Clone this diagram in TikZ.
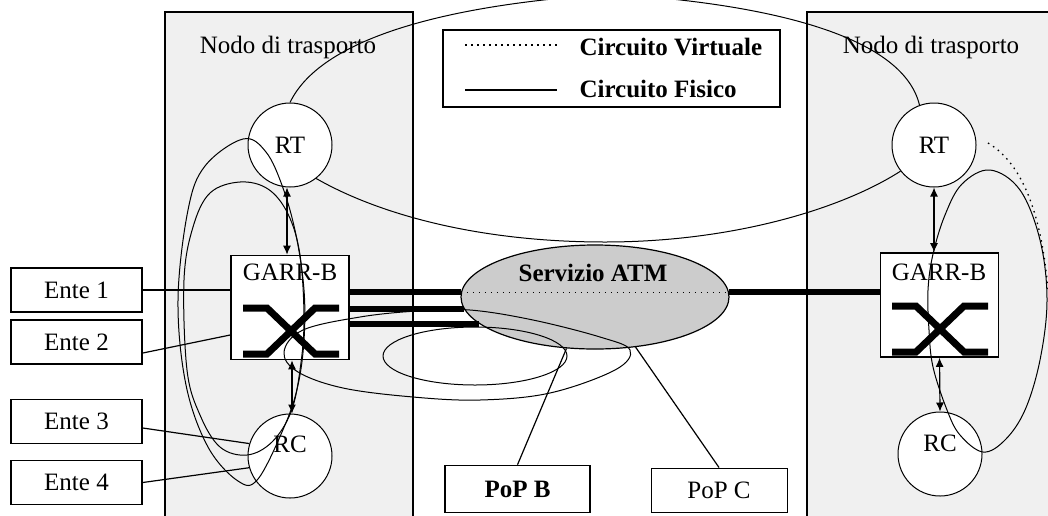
\documentclass[tikz,border=0pt]{standalone}
\usepackage{fontspec}
\setmainfont{Liberation Serif}
\usepackage{tikz}
\usetikzlibrary{arrows.meta,calc,shapes.geometric}
\definecolor{panelgray}{gray}{0.94}
\definecolor{atmgray}{gray}{0.8}
\newcommand{\diafont}{\fontsize{25}{27}\selectfont}
\newcommand{\xswitch}[2]{%
  \draw[xbar] (#1-48,#2-23) -- (#1-24,#2-23) -- (#1+24,#2+23) -- (#1+48,#2+23);
  \draw[xbar] (#1-48,#2+23) -- (#1-24,#2+23) -- (#1+24,#2-23) -- (#1+48,#2-23);}

\begin{document}
\begin{tikzpicture}[x=1pt,y=-1pt,>={Latex[length=9pt,width=8pt]},font=\diafont,
      router/.style={circle,draw,fill=white,line width=1pt,minimum size=84pt,inner sep=0pt},
      switchbox/.style={draw,fill=white,line width=1.6pt,minimum width=118pt,minimum height=104pt},
      ente/.style={draw,fill=white,line width=1.6pt,minimum width=131pt,minimum height=44pt,inner sep=0pt},
      atm/.style={ellipse,draw,fill=atmgray,line width=1.2pt,minimum width=268pt,minimum height=104pt},
      frame/.style={line width=1.5pt},
      phys/.style={line width=6pt},
      link/.style={line width=1.2pt},
      vc/.style={line width=1pt},
      virt/.style={line width=1.3pt,dash pattern=on 1.5pt off 4.5pt},
      xbar/.style={line width=7pt,line join=miter}]
      \useasboundingbox (0,0) rectangle (1048,515);
      \clip (0,0) rectangle (1048,515);

      % nodi di trasporto
      \fill[panelgray] (165,12) rectangle (413,520);
      \fill[panelgray] (807,12) rectangle (1050,520);
      \draw[frame] (165,520) -- (165,12) -- (413,12) -- (413,520);
      \draw[frame] (807,520) -- (807,12) -- (1050,12);
      \node (ntl) at (288,47) {Nodo di trasporto};
      \node (ntr) at (931,47) {Nodo di trasporto};

      % legenda
      \node[draw,line width=2pt,minimum width=337pt,minimum height=77pt] (leg) at (611.5,68.5) {};
      \node[anchor=west,font=\diafont\bfseries] (lvt) at (576,47) {Circuito Virtuale};
      \node[anchor=west,font=\diafont\bfseries] (lft) at (576,89) {Circuito Fisico};
      \draw[virt] (465,45) -- (557,45);
      \draw[line width=1.6pt] (465,90) -- (557,90);

      % lato sinistro
      \node[router] (rtl) at (290,145) {RT};
      \node[switchbox] (gl) at (290,307.5) {};
      \node (glt) at (290,272) {GARR-B};
      \node[router] (rcl) at (290,456) {};
      \node (rclt) at (290,444) {RC};

      % lato destro
      \node[router] (rtr) at (934,145) {RT};
      \node[switchbox] (gr) at (939.5,305) {};
      \node (grt) at (939,272) {GARR-B};
      \node[router] (rcr) at (940,454) {};
      \node (rcrt) at (940,443) {RC};

      % servizio ATM
      \node[atm] (atm) at (595,297) {};
      \node[font=\diafont\bfseries] (atml) at (593,273) {Servizio ATM};

      \node[ente] (e1) at (76.5,290) {Ente 1};
      \node[ente] (e2) at (76.5,342) {Ente 2};
      \node[ente] (e3) at (76.5,421.5) {Ente 3};
      \node[ente] (e4) at (76.5,482.5) {Ente 4};

      \node[ente,minimum width=145pt,minimum height=47pt,font=\diafont\bfseries] (pb) at (517.5,489) {PoP B};
      \node[ente,line width=1pt,minimum width=136pt,minimum height=44pt] (pc) at (719,490) {PoP C};

      \xswitch{291}{331}
      \xswitch{940}{329}

      % circuiti fisici
      \draw[link] (e1.east) -- (e1.east -| gl.west);
      \draw[link] ([yshift=-11pt]e2.east) -- ([yshift=-27.5pt]gl.west);
      \draw[link] ([yshift=-6.5pt]e3.east) -- (rcl.163);
      \draw[link] (e4.east) -- (rcl.196);

      \draw[phys] (atm.178 -| gl.east) -- (atm.178);
      \draw[phys] (atm.185 -| gl.east) -- (atm.185);
      \draw[phys] (atm.193 -| gl.east) -- (atm.193);
      \draw[phys] (atm.2) -- (atm.2 -| gr.west);

      \draw[link] (pb.north) -- (atm.241);
      \draw[link] (pc.north) -- (atm.309);

      \draw[<->,link] ([xshift=-3pt]rtl.south) -- ([xshift=-3pt]gl.north);
      \draw[<->,link] ([xshift=2pt]gl.south) -- ([xshift=2pt]rcl.north);
      \draw[<->,link] (rtr.south) -- (rtr.south |- gr.north);
      \draw[<->,link] (gr.south) -- (rcr.north);

      % circuiti virtuali
      \draw[virt] (atm.178) -- (atm.2);
      \draw[virt] (988,143) .. controls (1025,165) and (1042,220) .. (1048,290);

      \draw[vc] (rtl.north) .. controls (320,40) and (440,5) .. (612,-6)
                .. controls (784,5) and (904,40) .. (rtr.110);
      \draw[vc] (rtl.308) .. controls (380,215) and (480,242) .. (605,242)
                .. controls (730,242) and (840,210) .. (rtr.218);

      \draw[vc] plot[smooth cycle,tension=0.6] coordinates {
        (243,139) (205,166) (188,210) (178,300) (186,385) (208,447) (238,481)
        (258,479) (285,425) (298,385) (304,340) (304,290) (296,235) (283,188) (266,152)};
      \draw[vc] plot[smooth cycle,tension=0.6] coordinates {
        (240,182) (210,193) (193,227) (184,280) (187,370) (200,415) (220,447)
        (247,455) (272,442) (291,412) (300,370) (304,320) (300,255) (288,214) (268,189)};
      \draw[vc] plot[smooth cycle,tension=0.6] coordinates {
        (303,330) (360,317) (417,311) (470,310) (533,320) (600,337) (630,350)
        (615,370) (550,393) (480,400) (413,397) (343,388) (298,372) (284,352)};
      \draw[vc] plot[smooth cycle,tension=0.6] coordinates {
        (983,452) (960,435) (947,410) (933,367) (929,330) (928,290) (933,254)
        (945,215) (962,184) (990,170) (1020,190) (1040,240) (1047,300)
        (1040,360) (1025,410) (1005,440)};
      \draw[vc] (475,356) ellipse [x radius=92pt,y radius=29pt];
\end{tikzpicture}
\end{document}
